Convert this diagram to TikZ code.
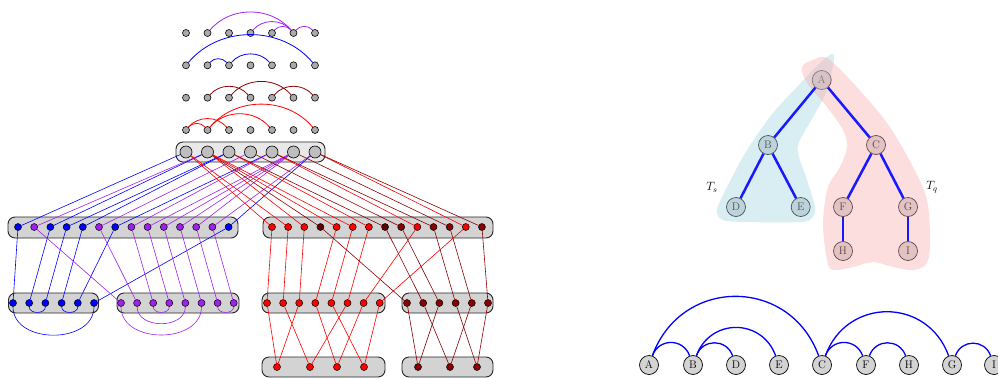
\documentclass[tikz,border=0pt]{standalone}
\definecolor{cpurple}{RGB}{160,32,240}
\definecolor{cblue}{RGB}{0,0,255}
\definecolor{cred}{RGB}{255,0,0}
\definecolor{cdred}{RGB}{139,0,0}
\definecolor{cddred}{RGB}{95,0,0}
\definecolor{blobblue}{RGB}{158,212,226}
\definecolor{blobred}{RGB}{249,172,172}
\definecolor{nodegray}{RGB}{211,211,211}
\definecolor{boxgray}{RGB}{211,211,211}
\definecolor{topbox}{RGB}{232,232,232}
\definecolor{dotgray}{RGB}{170,170,170}
\definecolor{bigdotgray}{RGB}{190,190,190}
\begin{document}
\begin{tikzpicture}[x=1pt,y=-1pt,
  sdot/.style={circle,draw=black,line width=0.6pt,inner sep=0pt,minimum size=7pt,fill=dotgray},
  bdot/.style={circle,draw=black,line width=0.6pt,inner sep=0pt,minimum size=12pt,fill=bigdotgray},
  cdot/.style={circle,draw=black,line width=0.5pt,inner sep=0pt,minimum size=7pt,fill=#1},
  grp/.style={rounded corners=7pt,draw=black!85,line width=0.9pt,fill=boxgray,inner sep=0pt},
  tnode/.style={circle,draw=black,line width=0.7pt,fill=nodegray,inner sep=0pt,minimum size=19pt,font=\fontsize{11}{12}\selectfont},
  arcc/.style={line width=0.8pt,draw=#1},
  conn/.style={line width=0.6pt,draw=#1},
  tedge/.style={line width=2.5pt,draw=cblue!90!white},
  barc/.style={line width=1.3pt,draw=cblue},
]
\useasboundingbox (0,0) rectangle (998,378);
\clip (0,0) rectangle (998,378);

% ---------- group boxes ----------
\node[grp,fill=topbox,minimum width=149pt,minimum height=20pt] (box0) at (250.5,152) {};
\node[grp,minimum width=230pt,minimum height=21pt] (boxL) at (123,227.5) {};
\node[grp,minimum width=230pt,minimum height=21pt] (boxR) at (378,227.5) {};
\node[grp,minimum width=90pt,minimum height=20pt] (box1) at (53.5,303) {};
\node[grp,minimum width=122pt,minimum height=20pt] (box2) at (178,303) {};
\node[grp,minimum width=123pt,minimum height=20pt] (box3) at (323.5,303) {};
\node[grp,minimum width=91pt,minimum height=20pt] (box4) at (447.5,303) {};
\node[grp,minimum width=123pt,minimum height=20pt] (box5) at (323.5,367) {};
\node[grp,minimum width=91pt,minimum height=20pt] (box6) at (447.5,367) {};

% ---------- top rows of small dots ----------
\foreach \r/\y in {1/33,2/65.3,3/97.7,4/130}{
  \foreach \i in {1,...,7}{
    \node[sdot] (s\r-\i) at ({186+21.5*(\i-1)},\y) {};
  }
}
\foreach \i in {1,...,7}{
  \node[bdot] (t\i) at ({186+21.5*(\i-1)},152) {};
}

% row 1 (purple)
\foreach \a/\b in {2/6,4/6,5/6,6/7}{\draw[arcc=cpurple] (s1-\a) to[out=50,in=130] (s1-\b);}
% row 2 (blue)
\foreach \a/\b in {1/7,2/3,3/5}{\draw[arcc=cblue] (s2-\a) to[out=50,in=130] (s2-\b);}
% row 3 (dark red)
\foreach \a/\b in {2/4,3/6,5/7}{\draw[arcc=cdred] (s3-\a) to[out=50,in=130] (s3-\b);}
% row 4 (red)
\foreach \a/\b in {1/2,1/3,2/5,2/7}{\draw[arcc=cred] (s4-\a) to[out=50,in=130] (s4-\b);}

% ---------- middle rows ----------
\foreach \c/\v [count=\k from 0] in {cblue/1,cpurple/2,cblue/2,cblue/3,cblue/3,cpurple/4,cblue/5,cpurple/5,cpurple/6,cpurple/6,cpurple/6,cpurple/6,cpurple/7,cblue/7}{
  \node[cdot=\c] (L\k) at ({18+16.2*\k},227) {};
  \draw[conn=\c] (t\v) -- (L\k);
}
\foreach \c/\lc/\v [count=\k from 0] in {cred/cred/1,cred/cred/1,cred/cred/2,cddred/cdred/2,cred/cred/2,cred/cred/2,cred/cred/3,cddred/cdred/3,cdred/cdred/4,cred/cred/5,cdred/cdred/5,cdred/cdred/6,cred/cred/7,cdred/cdred/7}{
  \node[cdot=\c] (R\k) at ({272+16.15*\k},227) {};
  \draw[conn=\lc] (t\v) -- (R\k);
}

% ---------- third row ----------
\foreach \k in {1,...,6}{\node[cdot=cblue] (b\k) at ({13+16.2*(\k-1)},303) {};}
\foreach \k in {1,...,8}{\node[cdot=cpurple] (p\k) at ({121+16.1*(\k-1)},303) {};}
\foreach \k in {1,...,8}{\node[cdot=cred] (q\k) at ({267+16.1*(\k-1)},303) {};}
\foreach \k in {1,...,6}{\node[cdot=cdred] (d\k) at ({407+16.2*(\k-1)},303) {};}

\foreach \m/\n in {0/1,2/2,3/3,4/4,6/5,13/6}{\draw[conn=cblue] (L\m) -- (b\n);}
\foreach \m/\n in {1/1,5/2,7/3,8/4,9/5,10/6,11/7,12/8}{\draw[conn=cpurple] (L\m) -- (p\n);}
\foreach \m/\n in {0/1,1/2,2/3,4/4,5/5,6/6,9/7,12/8}{\draw[conn=cred] (R\m) -- (q\n);}
\foreach \m/\n in {3/1,7/2,8/3,10/4,11/5,13/6}{\draw[conn=cdred] (R\m) -- (d\n);}

% arcs under row 3
\foreach \a/\b in {1/6,2/3,4/5}{\draw[conn=cblue] (b\a) to[out=-90,in=-90,looseness=1.2] (b\b);}
\foreach \a/\b in {1/6,2/5,3/4,7/8}{\draw[conn=cpurple] (p\a) to[out=-90,in=-90,looseness=1.2] (p\b);}

% ---------- fourth row ----------
\node[cdot=cred] (e1) at (277,367) {};
\node[cdot=cred] (e2) at (310,367) {};
\node[cdot=cred] (e3) at (337,367) {};
\node[cdot=cred] (e4) at (364,367) {};
\node[cdot=cdred] (f1) at (418,367) {};
\node[cdot=cdred] (f2) at (450,367) {};
\node[cdot=cdred] (f3) at (477,367) {};
\foreach \a/\b in {1/1,3/1,2/2,6/2,4/3,7/3,5/4,8/4}{\draw[conn=cred] (q\a) -- (e\b);}
\foreach \a/\b in {1/1,3/1,2/2,5/2,4/3,6/3}{\draw[conn=cdred] (d\a) -- (f\b);}

% ---------- tree ----------
\node[tnode] (tA) at (821.7,80) {A};
\node[tnode] (tB) at (768,145) {B};
\node[tnode] (tC) at (876,145) {C};
\node[tnode] (tD) at (736,207) {D};
\node[tnode] (tE) at (800.7,207) {E};
\node[tnode] (tF) at (843,207) {F};
\node[tnode] (tG) at (908,207) {G};
\node[tnode] (tH) at (843,251) {H};
\node[tnode] (tI) at (908,251) {I};

\fill[blobblue,opacity=0.4] plot[smooth cycle,tension=0.55] coordinates {
 (834,55) (827,90) (813,117) (800,140) (798,153) (807,180) (815,207) (812,218)
 (800,222) (747,222) (723,220) (717,210) (727,187) (747,150) (773,113) (797,87) (820,63)};
\fill[blobred,opacity=0.4] plot[smooth cycle,tension=0.55] coordinates {
 (802,67) (813,60) (827,58) (853,83) (887,123) (913,167) (927,200) (930,240) (927,263)
 (913,270) (893,267) (873,262) (853,267) (833,270) (827,260) (823,223) (828,187)
 (840,167) (847,147) (843,130) (827,107) (807,83)};

\foreach \a/\b in {A/B,A/C,B/D,B/E,C/F,C/G,F/H,G/I}{\draw[tedge] (t\a) -- (t\b);}

\node[font=\fontsize{12}{14}\selectfont] (Ts) at (712,187) {$T_s$};
\node[font=\fontsize{12}{14}\selectfont] (Tq) at (932,187) {$T_q$};

% ---------- bottom row ----------
\foreach \n/\x in {A/649,B/693,D/736,E/779,C/822,F/866,H/909,G/952,I/994}{
  \node[tnode] (u\n) at (\x,365) {\n};
}
\foreach \a/\b in {A/B,B/D,B/E,A/C,C/F,F/H,C/G,G/I}{
  \draw[barc] (u\a) to[out=70,in=110,looseness=1.3] (u\b);
}
\end{tikzpicture}
\end{document}
